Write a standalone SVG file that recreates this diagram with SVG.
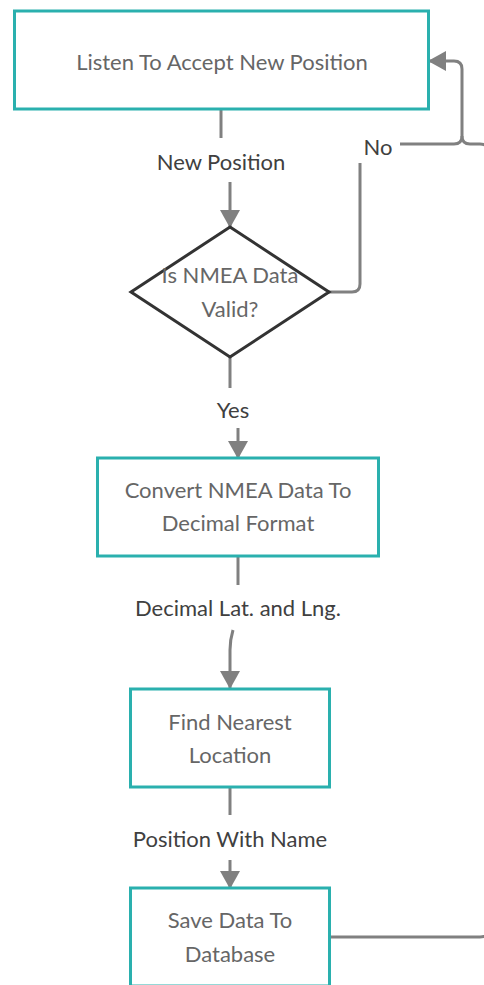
<svg xmlns="http://www.w3.org/2000/svg" width="484" height="985" viewBox="0 0 484 985">
<defs>
<marker id="arr" viewBox="0 0 18 20" refX="17" refY="10" markerWidth="18" markerHeight="20" markerUnits="userSpaceOnUse" orient="auto">
<path d="M0 0 L18 10 L0 20 Z" fill="#808080"/>
</marker>
</defs>
<style>
.box{fill:#fff;stroke:#2ab0ae;stroke-width:3}
.dia{fill:#fff;stroke:#333;stroke-width:3}
.edge{fill:none;stroke:#808080;stroke-width:3}
.nt{font-family:Lato,"Liberation Sans",sans-serif;font-size:22px;fill:#666;text-anchor:middle}
.lb{font-family:Lato,"Liberation Sans",sans-serif;font-size:22px;fill:#404040;text-anchor:middle}
</style>
<rect width="484" height="985" fill="#fff"/>
<g id="connectors">
<path class="edge" d="M221 110 V138"/>
<path class="edge" d="M230 182 V227" marker-end="url(#arr)"/>
<path class="edge" d="M329 292 H352 Q360 292 360 284 V163"/>
<path class="edge" d="M400 144 H454 Q462 144 462 136 V69 Q462 61 454 61 H429" marker-end="url(#arr)"/>
<path class="edge" d="M230 357 V388"/>
<path class="edge" d="M238 428 V458" marker-end="url(#arr)"/>
<path class="edge" d="M238 557 V585"/>
<path class="edge" d="M233 630 Q230 640 230 650 V688" marker-end="url(#arr)"/>
<path class="edge" d="M230 788 V815"/>
<path class="edge" d="M230 860 V888" marker-end="url(#arr)"/>
<path class="edge" d="M330 937 H480 Q490 937 490 927 V154 Q490 144 480 144 H470 Q462 144 462 136"/>
</g>
<g id="labels">
<text class="lb" x="221" y="170">New Position</text>
<text class="lb" x="378" y="155">No</text>
<text class="lb" x="233" y="418">Yes</text>
<text class="lb" x="238" y="616">Decimal Lat. and Lng.</text>
<text class="lb" x="230" y="847">Position With Name</text>
</g>
<g id="listen">
<rect class="box" x="14.5" y="11" width="414" height="98"/>
<text class="nt" x="222" y="70">Listen To Accept New Position</text>
</g>
<g id="valid">
<path class="dia" d="M230 227 L329 292 L230 357 L131 292 Z"/>
<text class="nt" x="230" y="283">Is NMEA Data</text>
<text class="nt" x="230" y="317">Valid?</text>
</g>
<g id="convert">
<rect class="box" x="97.5" y="458" width="281" height="98"/>
<text class="nt" x="238" y="498">Convert NMEA Data To</text>
<text class="nt" x="238" y="531">Decimal Format</text>
</g>
<g id="nearest">
<rect class="box" x="130.5" y="689" width="199" height="98"/>
<text class="nt" x="230" y="730">Find Nearest</text>
<text class="nt" x="230" y="763">Location</text>
</g>
<g id="save">
<rect class="box" x="130.5" y="888" width="199" height="98"/>
<text class="nt" x="230" y="928">Save Data To</text>
<text class="nt" x="230" y="962">Database</text>
</g>
</svg>
